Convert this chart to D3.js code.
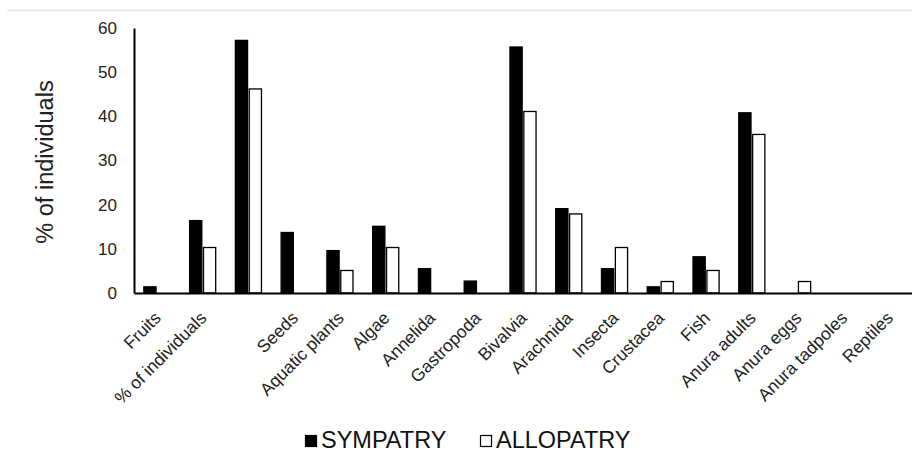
<!DOCTYPE html>
<html>
<head>
<meta charset="utf-8">
<script src="https://cdn.jsdelivr.net/npm/d3@7"></script>
<style>
  html, body { margin: 0; padding: 0; background: #fff; }
  svg { display: block; font-family: "Liberation Sans", Arial, sans-serif; }
</style>
</head>
<body>
<svg id="chart" width="912" height="463"></svg>
<script>
// ---- data ----
const categories = ["Fruits", "% of individuals", "", "Seeds", "Aquatic plants", "Algae", "Annelida",
  "Gastropoda", "Bivalvia", "Arachnida", "Insecta", "Crustacea", "Fish", "Anura adults",
  "Anura eggs", "Anura tadpoles", "Reptiles"];
const seriesNames = ["SYMPATRY", "ALLOPATRY"];
const sympatry = [1.4, 16.4, 57.2, 13.7, 9.6, 15.1, 5.5, 2.7, 55.7, 19.1, 5.5, 1.4, 8.2, 40.8, 0, 0, 0];
const allopatry = [0, 10.3, 46.2, 0, 5.1, 10.3, 0, 0, 41.1, 17.9, 10.3, 2.6, 5.1, 35.9, 2.6, 0, 0];
const yTicks = [0, 10, 20, 30, 40, 50, 60];
const yTitle = "% of individuals";

const svg = d3.select("#chart");

// top gray rule
svg.append("line").attr("x1", 7).attr("x2", 912).attr("y1", 10.5).attr("y2", 10.5)
  .attr("stroke", "#e3e3e3").attr("stroke-width", 1.5);

const plotLeft = 134, plotRight = 912, plotTop = 28, plotBottom = 293;

const x = d3.scaleBand().domain(d3.range(categories.length)).range([plotLeft, plotRight])
  .paddingInner(0.43).paddingOuter(0.215);
const x1 = d3.scaleBand().domain(seriesNames).range([0, x.bandwidth()]).paddingInner(0.12);
const y = d3.scaleLinear().domain([0, 60]).range([plotBottom, plotTop]);

const fills = { SYMPATRY: "#000", ALLOPATRY: "#fff" };
const data = [sympatry, allopatry];

seriesNames.forEach((s, si) => {
  svg.append("g").selectAll("rect")
    .data(data[si].map((v, i) => ({ i, v })).filter(d => d.v > 0))
    .join("rect")
    .attr("x", d => x(d.i) + x1(s))
    .attr("y", d => y(d.v))
    .attr("width", x1.bandwidth())
    .attr("height", d => y(0) - y(d.v))
    .attr("fill", fills[s])
    .attr("stroke", "#000")
    .attr("stroke-width", 1.3);
});

// y axis
const yAxis = svg.append("g").attr("transform", `translate(${plotLeft},0)`)
  .call(d3.axisLeft(y).tickValues(yTicks).tickSize(0).tickPadding(17));
yAxis.select(".domain").attr("stroke", "#000").attr("stroke-width", 2);
yAxis.selectAll("text").attr("font-size", 17).attr("fill", "#222")
  .attr("font-family", "Liberation Sans, Arial, sans-serif");

// x axis
const xAxis = svg.append("g").attr("transform", `translate(0,${plotBottom})`)
  .call(d3.axisBottom(x).tickFormat(i => categories[i]).tickSize(0));
xAxis.select(".domain").attr("stroke", "#000").attr("stroke-width", 2);
xAxis.selectAll("text")
  .attr("font-size", 17.5).attr("fill", "#222")
  .attr("font-family", "Liberation Sans, Arial, sans-serif")
  .attr("text-anchor", "end")
  .attr("dy", 0).attr("y", 0)
  .attr("transform", "translate(5,26) rotate(-45)");

// y title
svg.append("text")
  .attr("transform", "translate(53,162) rotate(-90)")
  .attr("text-anchor", "middle")
  .attr("font-size", 23.5).attr("fill", "#222")
  .text(yTitle);

// legend
const legendX = d3.scaleOrdinal().domain(seriesNames).range([305, 480]);
const lg = svg.append("g").selectAll("g").data(seriesNames).join("g")
  .attr("transform", d => `translate(${legendX(d)},0)`);
lg.append("rect").attr("x", 0.5).attr("y", 435.5).attr("width", 11).attr("height", 11)
  .attr("fill", d => fills[d]).attr("stroke", "#000").attr("stroke-width", 1.2);
lg.append("text").attr("x", 16).attr("y", 448)
  .attr("font-size", 23.5).attr("fill", "#111")
  .text(d => d);
</script>
</body>
</html>
